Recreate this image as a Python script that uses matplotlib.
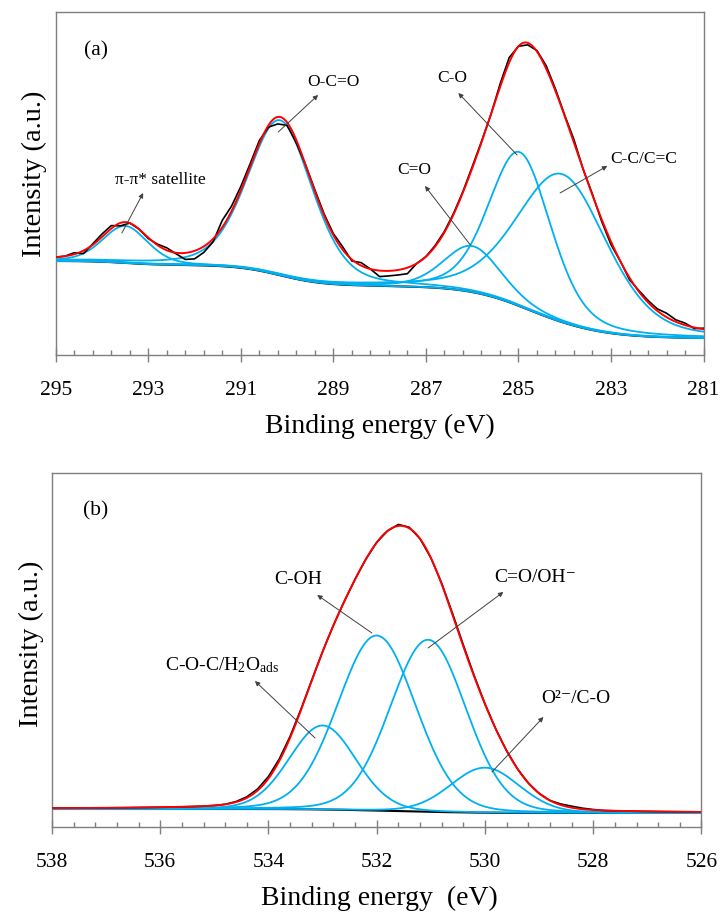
import math
import numpy as np
import matplotlib
matplotlib.use('Agg')
import matplotlib.pyplot as plt
from matplotlib.ticker import FixedLocator, FuncFormatter

plt.rcParams['font.family'] = ['Liberation Serif', 'DejaVu Serif']
plt.rcParams['mathtext.fontset'] = 'custom'
plt.rcParams['mathtext.rm'] = 'Liberation Serif'
plt.rcParams['mathtext.it'] = 'Liberation Serif:italic'

# ---- (a) C 1s fit: peak parameters ----
c1s_range = (281.0, 295.0)
c1s_center = [293.5, 290.15, 286.0, 284.97, 284.05]
c1s_height = [37, 155, 46, 154, 148]
c1s_fwhm = [1.15, 1.65, 1.45, 1.58, 2.3]
c1s_lorentz = 0.3
c1s_bg = (17, 94)          # background level at low / high BE end
# measured curve minus fit, every 0.2 eV from 295.0 down to 281.0
c1s_resid = [0, 0, 1.5, -3, 1, 3, 3, -3, 0, 0,
             -1, 1, 2.5, -1, -6.5, -8, -6, -3, 7, 5,
             4, 3, 3, -2, -7, -3, -3, 0, 1.5, 1.5,
             1.5, 3, -1.5, 3, 0, -6, -5, -5, -6, 0,
             0, 1, 1, 1, 1, 1.5, 1, 0, 3, 5,
             0, -2, 1, 3, 2, 1, 3, 0, 1, -2,
             -3, 0, -2, 1, 2, 2, 4, 2, 2, -1,
             1]
c1s_labels = ['π-π* satellite', 'O-C=O', 'C=O', 'C-O', 'C-C/C=C']
c1s_text_xy = [(292.74, 175), (289.0, 273), (287.25, 185), (286.43, 277), (282.30, 196)]
c1s_tip = [(293.11, 162), (289.33, 260), (287.02, 169), (286.30, 262), (283.08, 189)]
c1s_tail = [(293.57, 122), (290.19, 223), (286.04, 110), (285.03, 200), (284.10, 162)]

# ---- (b) O 1s fit ----
o1s_range = (526.0, 538.0)
o1s_center = [533.0, 532.0, 531.05, 530.0]
o1s_height = [84, 175, 172, 45]
o1s_fwhm = [1.45, 1.7, 1.65, 1.5]
o1s_lorentz = 0.1
o1s_bg = (14, 18)
# every 0.2 eV from 538.0 down to 526.0
o1s_resid = [0] * 16 + [0, 0.5, 1, 1.5, 2, 2, 1.5, 1, 0.5, 0] + [0] * 6 \
    + [1.5, 1, 0, 0, 1, 1.5, 1.5, 1, 0.5] + [0] * 6 + [1, 1.5, 1, 0.5] + [0] * 10
o1s_labels = ['C-O-C/H$_2$O$_\\mathrm{ads}$', 'C-OH', 'C=O/OH⁻', 'O²⁻/C-O']
o1s_text_xy = [(534.86, 162), (533.45, 247), (529.07, 249), (528.33, 128)]
o1s_tip = [(534.25, 146), (533.10, 232), (529.66, 235), (528.92, 110)]
o1s_tail = [(533.14, 89), (532.09, 194), (531.05, 179), (529.87, 55)]

BLUE = '#00b0f0'
RED = '#ff0000'
GREY = '#7f7f7f'
LN2 = math.log(2)
erf = np.vectorize(math.erf)


def peak(x, c, h, w, m):
    d = (x - c) / w
    return h * ((1 - m) * np.exp(-4 * LN2 * d ** 2) + m / (1 + 4 * d ** 2))


def peak_area(x, c, h, w, m):
    d = (np.asarray(x, dtype=float) - c) / w
    g = w * math.sqrt(math.pi / LN2) / 4 * (1 + erf(2 * math.sqrt(LN2) * d))
    l = w / 2 * (np.arctan(2 * d) + math.pi / 2)
    return h * ((1 - m) * g + m * l)


def shirley(x, centers, heights, widths, m, xr, levels):
    area = lambda xx: sum(peak_area(xx, c, h, w, m) for c, h, w in zip(centers, heights, widths))
    a_lo, a_hi = area(xr[0]), area(xr[1])
    return levels[0] + (levels[1] - levels[0]) * (area(x) - a_lo) / (a_hi - a_lo)


def draw_panel(ax, xr, centers, heights, widths, m, levels, resid,
               labels, text_xy, tips, tails, letter, ytop, xlabel, fs_ann):
    x = np.linspace(xr[0], xr[1], 1401)
    bg = shirley(x, centers, heights, widths, m, xr, levels)
    fit = bg.copy()
    ax.plot(x, bg, color='black', lw=1.5, zorder=2)
    for c, h, w in zip(centers, heights, widths):
        p = peak(x, c, h, w, m)
        fit += p
        ax.plot(x, bg + p, color=BLUE, lw=1.3, zorder=3)

    xd = np.round(np.arange(xr[1], xr[0] - 0.01, -0.2), 1)
    bgd = shirley(xd, centers, heights, widths, m, xr, levels)
    fitd = bgd + sum(peak(xd, c, h, w, m) for c, h, w in zip(centers, heights, widths))
    ax.plot(xd, fitd + np.array(resid), color='black', lw=1.2, zorder=4)
    ax.plot(x, fit, color=RED, lw=1.4, zorder=5)

    for lab, txy, tip, tail in zip(labels, text_xy, tips, tails):
        ax.text(txy[0], txy[1], lab, ha='center', va='center', fontsize=fs_ann, zorder=6)
        ax.annotate('', xy=tip, xytext=tail,
                    arrowprops=dict(arrowstyle='-|>', color='#404040', lw=0.7,
                                    mutation_scale=7, shrinkA=0, shrinkB=0), zorder=6)
    ax.text(letter[1], letter[2], letter[0], ha='center', va='center', fontsize=15.5)

    ax.set_xlim(xr[1], xr[0])
    ax.set_ylim(0, ytop)
    ax.set_yticks([])
    ax.xaxis.set_major_locator(FixedLocator(np.arange(xr[0], xr[1] + 0.01, 2)))
    ax.xaxis.set_minor_locator(FixedLocator(np.arange(xr[0], xr[1] + 0.01, 0.4)))
    ax.xaxis.set_major_formatter(FuncFormatter(lambda v, p: f'{v:.0f}'))
    ax.tick_params(axis='x', which='major', direction='inout', length=9.5, width=1,
                   color=GREY, labelsize=15.5, pad=14)
    ax.tick_params(axis='x', which='minor', direction='in', length=3.6, width=1, color=GREY)
    for s in ax.spines.values():
        s.set_color(GREY)
        s.set_linewidth(1.0)
    ax.set_xlabel(xlabel, fontsize=20)
    ax.set_ylabel('Intensity (a.u.)', fontsize=20.5)


fig = plt.figure(figsize=(7.21, 9.14), dpi=100)
ax1 = fig.add_axes([0.0773, 0.6116, 0.8985, 0.3753])
ax2 = fig.add_axes([0.0721, 0.0952, 0.9008, 0.3873])

draw_panel(ax1, c1s_range, c1s_center, c1s_height, c1s_fwhm, c1s_lorentz, c1s_bg, c1s_resid,
           c1s_labels, c1s_text_xy, c1s_tip, c1s_tail, ('(a)', 294.13, 304), 343,
           'Binding energy (eV)', 12.5)
draw_panel(ax2, o1s_range, o1s_center, o1s_height, o1s_fwhm, o1s_lorentz, o1s_bg, o1s_resid,
           o1s_labels, o1s_text_xy, o1s_tip, o1s_tail, ('(b)', 537.19, 316), 354,
           'Binding energy  (eV)', 14)

ax1.xaxis.set_label_coords(0.5006, -0.172)
ax2.xaxis.set_label_coords(0.504, -0.166)
ax1.yaxis.set_label_coords(-0.0134, 0.528)
ax2.yaxis.set_label_coords(-0.0123, 0.517)

fig.savefig('out.png', dpi=100)
